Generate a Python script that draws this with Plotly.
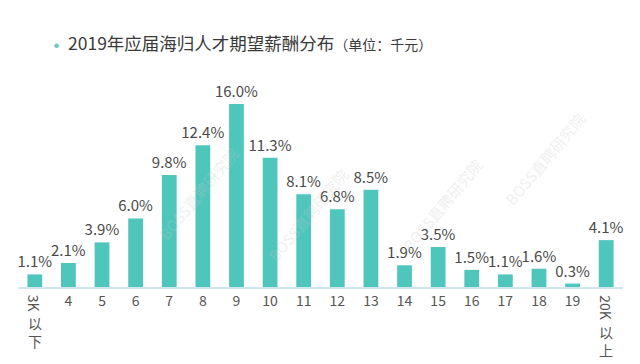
import plotly.graph_objects as go

categories = ["3K以下", "4", "5", "6", "7", "8", "9", "10", "11", "12", "13",
              "14", "15", "16", "17", "18", "19", "20K以上"]
values = [1.1, 2.1, 3.9, 6.0, 9.8, 12.4, 16.0, 11.3, 8.1, 6.8, 8.5,
          1.9, 3.5, 1.5, 1.1, 1.6, 0.3, 4.1]
tick_labels = ["", "4", "5", "6", "7", "8", "9", "10", "11", "12", "13",
               "14", "15", "16", "17", "18", "19", ""]

FONT = "Noto Sans CJK SC"
BAR = "#4ec6bc"
TXT = "#4a4a4a"

xs = list(range(len(categories)))

fig = go.Figure()
fig.add_trace(go.Bar(
    x=xs, y=values,
    marker=dict(color=BAR, line=dict(width=0)),
    text=[f"{v:.1f}%" for v in values],
    textposition="outside",
    constraintext="none",
    textfont=dict(family=FONT, size=15, color=TXT),
    cliponaxis=False,
    width=0.44,
    hoverinfo="skip",
))

annotations = []
# vertical tick labels for the first and last category
tick_font = dict(family=FONT, size=14, color="#555555")
for idx, head, tail, shift in [
    (0, "3K", "以<br>下", -25),
    (len(categories) - 1, "20K", "以<br>上", -34),
]:
    annotations.append(dict(x=xs[idx], y=0, xref="x", yref="y", text=head,
                            textangle=90, showarrow=False, yanchor="top",
                            yshift=-7, borderpad=0, font=tick_font))
    annotations.append(dict(x=xs[idx], y=0, xref="x", yref="y", text=tail,
                            showarrow=False, yanchor="top", yshift=shift,
                            borderpad=0, font=tick_font))

# title
annotations.append(dict(
    x=0.079, y=1, xref="paper", yref="paper", xanchor="left", yanchor="bottom",
    yshift=23, showarrow=False,
    text="2019年应届海归人才期望薪酬分布"
         "<span style='font-size:14px'>（单位：千元）</span>",
    font=dict(family=FONT, size=17.5, color="#3a3a3a")))
annotations.append(dict(x=0.064, y=1, xref="paper", yref="paper", xanchor="center",
                        yanchor="middle", yshift=36, text="●", showarrow=False,
                        font=dict(family=FONT, size=5, color="#6fc9c0")))

# watermark
for wx, wy in [(0.22, 0.45), (0.48, 0.35), (0.78, 0.40), (0.95, 0.62)]:
    annotations.append(dict(x=wx, y=wy, xref="paper", yref="paper",
                            text="BOSS直聘研究院", textangle=-50, showarrow=False,
                            font=dict(family=FONT, size=15, color="rgba(200,200,200,0.3)")))

fig.update_layout(
    width=640, height=364,
    margin=dict(l=18, r=17, t=80, b=77, autoexpand=False),
    paper_bgcolor="white", plot_bgcolor="white",
    showlegend=False,
    bargap=0.56,
    annotations=annotations,
    xaxis=dict(
        tickmode="array", tickvals=xs, ticktext=tick_labels,
        range=[-0.5, len(categories) - 0.5],
        showgrid=False, zeroline=False, showline=True, automargin=False,
        linecolor="#cfe6ef", linewidth=2, ticks="",
        tickfont=tick_font,
    ),
    yaxis=dict(range=[0, 18.1], visible=False, showgrid=False, zeroline=False,
               automargin=False),
)

fig.write_html("out.html", config={"displayModeBar": False},
               post_script="document.body.style.margin='0';")
